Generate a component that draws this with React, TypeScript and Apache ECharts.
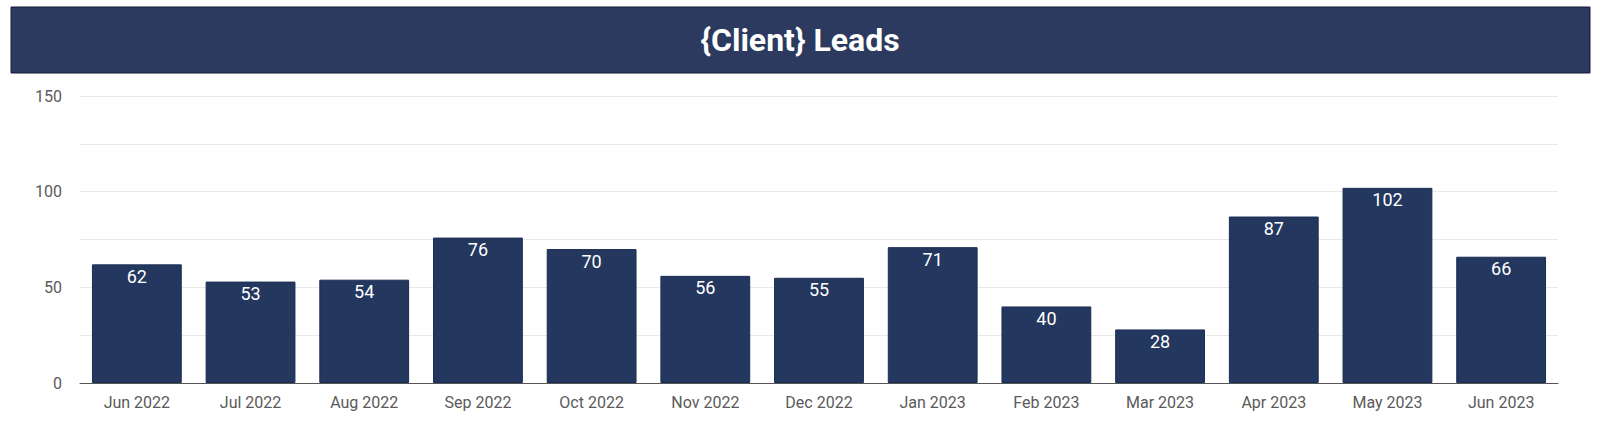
import React, { useEffect, useRef } from "react";
import * as echarts from "echarts";

const categories = [
  "Jun 2022", "Jul 2022", "Aug 2022", "Sep 2022", "Oct 2022", "Nov 2022", "Dec 2022",
  "Jan 2023", "Feb 2023", "Mar 2023", "Apr 2023", "May 2023", "Jun 2023",
];
const leads = [62, 53, 54, 76, 70, 56, 55, 71, 40, 28, 87, 102, 66];
const titleText = "{Client} Leads";

export default function App() {
  const ref = useRef<HTMLDivElement>(null);
  useEffect(() => {
    if (!ref.current) return;
    const chart = echarts.init(ref.current, null, { renderer: "svg" });
    chart.setOption({
      animation: false,
      backgroundColor: "#ffffff",
      graphic: [
        {
          type: "rect",
          shape: { x: 11, y: 7, width: 1579, height: 66 },
          style: { fill: "#2b3a5e", stroke: "#101c3c", lineWidth: 1 },
        },
        {
          type: "text",
          x: 800,
          y: 40,
          style: {
            text: titleText,
            fill: "#ffffff",
            font: "bold 32px Roboto",
            textAlign: "center",
            textVerticalAlign: "middle",
          },
        },
      ],
      grid: { left: 80, right: 42, top: 96, bottom: 45, containLabel: false },
      xAxis: {
        type: "category",
        data: categories,
        axisTick: { show: false },
        axisLine: { lineStyle: { color: "#555555", width: 1 } },
        axisLabel: { color: "#5a5a5a", fontSize: 16, fontFamily: "Roboto", margin: 11 },
      },
      yAxis: {
        type: "value",
        min: 0,
        max: 150,
        interval: 25,
        axisLine: { show: false },
        axisTick: { show: false },
        splitLine: { lineStyle: { color: "#e8e8e8", width: 1 } },
        axisLabel: {
          color: "#5a5a5a",
          fontSize: 16,
          fontFamily: "Roboto",
          margin: 18,
          formatter: (v: number) => (v % 50 === 0 ? String(v) : ""),
        },
      },
      series: [
        {
          type: "bar",
          data: leads,
          barCategoryGap: "21%",
          itemStyle: { color: "#24375e", borderColor: "#1b2d52", borderWidth: 1 },
          label: {
            show: true,
            position: "insideTop",
            distance: 3,
            color: "#ffffff",
            fontSize: 18,
            fontFamily: "Roboto",
          },
        },
      ],
    });
    return () => chart.dispose();
  }, []);
  return (
    <div
      ref={ref}
      style={{ position: "fixed", left: 0, top: 0, width: 1600, height: 428 }}
    />
  );
}
